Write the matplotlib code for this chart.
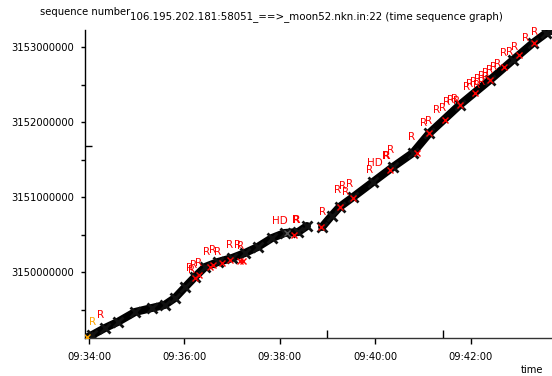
import matplotlib
matplotlib.use("Agg")
import matplotlib.pyplot as plt
from matplotlib.ticker import FixedLocator, FuncFormatter

plt.rcParams['font.family'] = ['DejaVu Sans']

# time in seconds after 09:34:00, sequence numbers
seg1_t = [-1, 4, 20, 36, 58, 79, 95, 108, 121, 133, 146, 162, 180, 196, 212, 230, 246, 263, 274]
seg1_s = [3149133000, 3149160000, 3149253000, 3149333000, 3149467000, 3149520000, 3149560000,
          3149653000, 3149800000, 3149933000, 3150067000, 3150133000, 3150187000, 3150253000,
          3150333000, 3150453000, 3150520000, 3150533000, 3150613000]
seg2_t = [293, 305, 315, 332, 357, 382, 407, 428, 466, 504, 533, 558, 575, 584]
seg2_s = [3150600000, 3150750000, 3150867000, 3151000000, 3151200000, 3151400000, 3151587000,
          3151853000, 3152227000, 3152560000, 3152827000, 3153053000, 3153187000, 3153235000]

r_t = [15, 127, 132, 138, 129, 148, 155, 162, 177, 187, 191, 313, 319, 327, 323, 353, 379,
       406, 420, 427, 437, 444, 449, 454, 459, 462, 474, 479, 484, 489, 494, 499, 504, 509,
       513, 487, 493, 498, 521, 529, 535, 549, 560, 293]
r_s = [3149427000, 3150053000, 3150093000, 3150120000, 3150027000, 3150267000, 3150293000,
       3150267000, 3150360000, 3150360000, 3150347000, 3151093000, 3151147000, 3151173000,
       3151067000, 3151360000, 3151627000, 3151800000, 3151987000, 3152013000, 3152160000,
       3152187000, 3152267000, 3152293000, 3152307000, 3152280000, 3152467000, 3152507000,
       3152533000, 3152573000, 3152613000, 3152653000, 3152693000, 3152733000, 3152773000,
       3152493000, 3152540000, 3152600000, 3152920000, 3152933000, 3153000000, 3153120000,
       3153200000, 3150800000]
rb_t = [260, 374]
rb_s = [3150693000, 3151547000]
hd_t = [240, 359]
hd_s = [3150680000, 3151453000]
rx_t = [133, 138, 152, 156, 167, 177, 190, 194, 258, 292, 315, 332, 379, 412, 428, 447, 466,
        485, 504, 522, 541, 560]
rx_s = [3149920000, 3149960000, 3150067000, 3150093000, 3150120000, 3150160000, 3150147000,
        3150147000, 3150493000, 3150600000, 3150867000, 3150987000, 3151360000, 3151587000,
        3151853000, 3152027000, 3152227000, 3152387000, 3152560000, 3152733000, 3152893000,
        3153053000]
gx_t = [249]
gx_s = [3150520000]
orange_t = [4]
orange_s = [3149333000]
bar_t = [299, 445]
bar_lo, bar_hi = 3149120000, 3149227000

fig = plt.figure(figsize=(5.52, 3.76), dpi=100)
ax = fig.add_axes([85/552, 38/376, 1 - 85/552, (338-30)/376])

for t, s in ((seg1_t, seg1_s), (seg2_t, seg2_s)):
    ax.plot(t, s, color='black', lw=5.8, solid_capstyle='round', zorder=2)
    ax.plot(t, s, ls='none', marker='x', color='#111111', ms=6.5, mew=2, zorder=2)

ax.plot(rx_t, rx_s, ls='none', marker='x', color='red', ms=4, mew=1, zorder=3)
ax.plot(gx_t, gx_s, ls='none', marker='x', color='#555555', ms=4, mew=1, zorder=3)
ax.plot([-3], [3149135000], ls='none', marker='x', color='orange', ms=5, mew=1, zorder=3)

for t, s in zip(r_t, r_s):
    ax.text(t, s, 'R', color='red', fontsize=7.5, ha='center', va='center', zorder=4)
for t, s in zip(rb_t, rb_s):
    ax.text(t, s, 'R', color='red', fontsize=8, fontweight='bold', ha='center', va='center', zorder=4)
for t, s in zip(hd_t, hd_s):
    ax.text(t, s, 'HD', color='red', fontsize=7.5, ha='center', va='center', zorder=4)
for t, s in zip(orange_t, orange_s):
    ax.text(t, s, 'R', color='orange', fontsize=7.5, ha='center', va='center', zorder=4)

ax.vlines(bar_t, bar_lo, bar_hi, color='black', lw=1, zorder=3)
ax.hlines([3151680000], -5, 4, color='black', lw=1, clip_on=False, zorder=3)

ax.set_xlim(-5, 582)
ax.set_ylim(3149120000, 3153226700)

ax.spines['top'].set_visible(False)
ax.spines['right'].set_visible(False)
ax.spines['left'].set_linewidth(1)
ax.spines['bottom'].set_linewidth(1)
ax.spines['bottom'].set_color('#333333')

ax.xaxis.set_major_locator(FixedLocator([0, 120, 240, 360, 480]))
ax.xaxis.set_major_formatter(FuncFormatter(lambda v, p: "09:%02d:%02d" % (34 + int(v) // 60, int(v) % 60)))
ax.yaxis.set_major_locator(FixedLocator([3150000000, 3151000000, 3152000000, 3153000000]))
ax.yaxis.set_minor_locator(FixedLocator([3149500000, 3150500000, 3151500000, 3152500000]))
ax.yaxis.set_major_formatter(FuncFormatter(lambda v, p: "%d" % round(v)))
ax.tick_params(axis='both', which='both', labelsize=7.2, direction='out', width=1, color='black')
ax.tick_params(axis='y', which='both', length=3, pad=5)
ax.tick_params(axis='x', which='major', length=4, pad=6)

fig.text(85/552, 1 - 12/376, 'sequence number', fontsize=7.2, ha='center', va='center')
fig.text(130/552, 1 - 17/376, '106.195.202.181:58051_==>_moon52.nkn.in:22 (time sequence graph)',
         fontsize=7.4, ha='left', va='center')
fig.text(532/552, 1 - 370/376, 'time', fontsize=7.2, ha='center', va='center')

fig.savefig('out.png', dpi=100)
